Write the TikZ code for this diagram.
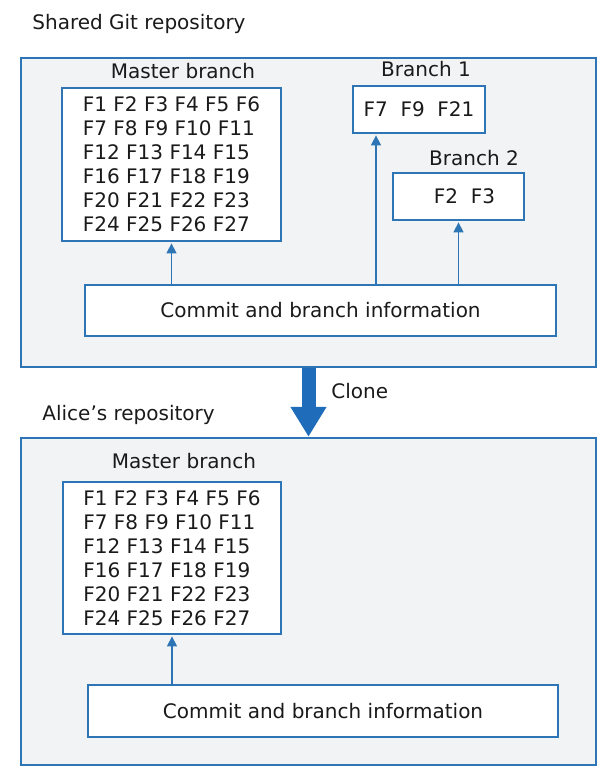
\documentclass[tikz,border=0pt]{standalone}
\usepackage{fontspec}
\setmainfont{DejaVu Sans}
\usetikzlibrary{arrows.meta}

\definecolor{gitblue}{HTML}{2E75B6}
\definecolor{clonblue}{HTML}{1F6DBA}
\definecolor{repofill}{HTML}{F2F3F5}
\definecolor{ink}{HTML}{1A1A1A}

\tikzstyle{repo}=[draw=gitblue, line width=1.2pt, fill=repofill, minimum width=287.5pt]
\tikzstyle{branchbox}=[draw=gitblue, line width=1.2pt, fill=white, text=ink, align=left]
\tikzstyle{caption}=[text=ink, inner sep=0pt]
\tikzstyle{arrow}=[gitblue, line width=0.75pt, -{Triangle[width=5pt,length=5pt]}, shorten >=0.6pt]
\tikzstyle{clone}=[clonblue, line width=7pt, -{Triangle[width=17pt,length=15pt]}]

\begin{document}
\begin{tikzpicture}[x=0.5pt, y=-0.5pt, font=\fontsize{10}{12}\selectfont]
      \useasboundingbox (0, 0) rectangle (610, 782);

      % shared repository
      \node[caption, anchor=west] (sharedlbl) at (32, 24) {Shared Git repository};
      \node[repo, minimum height=154.5pt] (shared) at (308.5, 212.5) {};
      \node[caption] (masterlblA) at (183, 71) {Master branch};
      \node[branchbox, minimum width=109.5pt, minimum height=76.5pt] (masterA) at (171.5, 164.5)
        {F1 F2 F3 F4 F5 F6\\F7 F8 F9 F10 F11\\F12 F13 F14 F15\\F16 F17 F18 F19\\F20 F21 F22 F23\\F24 F25 F26 F27};
      \node[caption] (branch1lbl) at (426, 69) {Branch 1};
      \node[branchbox, minimum width=66pt, minimum height=23.5pt] (branch1) at (419, 109.5) {F7\ \ F9\ \ F21};
      \node[caption] (branch2lbl) at (474, 158) {Branch 2};
      \node[branchbox, minimum width=65.5pt, minimum height=23.5pt] (branch2) at (458.5, 196.5) {\hspace{6pt}F2\ \ F3};
      \node[branchbox, minimum width=235.5pt, minimum height=25.5pt] (commitA) at (320.5, 310.5) {Commit and branch information};
      \coordinate (b1foot) at (376, 285);

      \draw[arrow] (masterA.south |- commitA.north) to (masterA.south);
      \draw[arrow] (b1foot) to (b1foot |- branch1.south);
      \draw[arrow] (branch2.south |- commitA.north) to (branch2.south);

      % Alice's repository
      \node[caption, anchor=west] (alicelbl) at (42, 415) {Alice’s repository};
      \node[repo, minimum height=163.5pt] (alice) at (308.5, 601.5) {};
      \node[caption] (masterlblB) at (184, 461) {Master branch};
      \node[branchbox, minimum width=109pt, minimum height=76pt] (masterB) at (172, 558)
        {F1 F2 F3 F4 F5 F6\\F7 F8 F9 F10 F11\\F12 F13 F14 F15\\F16 F17 F18 F19\\F20 F21 F22 F23\\F24 F25 F26 F27};
      \node[branchbox, minimum width=235pt, minimum height=26pt] (commitB) at (323, 711) {Commit and branch information};

      \draw[arrow] (masterB.south |- commitB.north) to (masterB.south);

      \draw[clone] (shared.south) to (alice.north);
      \node[caption, anchor=west] (clonelbl) at (331, 391) {Clone};
    \end{tikzpicture}
\end{document}
